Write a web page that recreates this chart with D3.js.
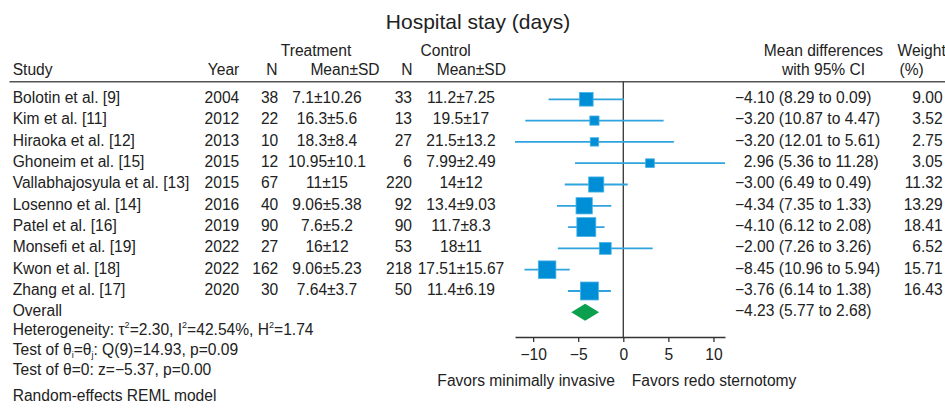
<!DOCTYPE html>
<html>
<head>
<meta charset="utf-8">
<script src="https://cdn.jsdelivr.net/npm/d3@7"></script>
<style>
  body { margin: 0; background: #fff; }
  svg text { font-family: "Liberation Sans", Arial, sans-serif; fill: #222; }
</style>
</head>
<body>
<div id="chart"></div>
<script>
// study data
const studies = ['Bolotin et al. [9]', 'Kim et al. [11]', 'Hiraoka et al. [12]', 'Ghoneim et al. [15]',
  'Vallabhajosyula et al. [13]', 'Losenno et al. [14]', 'Patel et al. [16]', 'Monsefi et al. [19]',
  'Kwon et al. [18]', 'Zhang et al. [17]'];
const years = [2004, 2012, 2013, 2015, 2015, 2016, 2019, 2022, 2022, 2020];
const treatN = [38, 22, 10, 12, 67, 40, 90, 27, 162, 30];
const treatMean = [7.1, 16.3, 18.3, 10.95, 11, 9.06, 7.6, 16, 9.06, 7.64];
const treatSd = [10.26, 5.6, 8.4, 10.1, 15, 5.38, 5.2, 12, 5.23, 3.7];
const ctrlN = [33, 13, 27, 6, 220, 92, 90, 53, 218, 50];
const ctrlMean = [11.2, 19.5, 21.5, 7.99, 14, 13.4, 11.7, 18, 17.51, 11.4];
const ctrlSd = [7.25, 17, 13.2, 2.49, 12, 9.03, 8.3, 11, 15.67, 6.19];
const md = [-4.10, -3.20, -3.20, 2.96, -3.00, -4.34, -4.10, -2.00, -8.45, -3.76];
const lo = [-8.29, -10.87, -12.01, -5.36, -6.49, -7.35, -6.12, -7.26, -10.96, -6.14];
const hi = [0.09, 4.47, 5.61, 11.28, 0.49, -1.33, -2.08, 3.26, -5.94, -1.38];
const weights = [9.00, 3.52, 2.75, 3.05, 11.32, 13.29, 18.41, 6.52, 15.71, 16.43];

// overall estimate
const overall = { md: -4.23, lo: -5.77, hi: -2.68 };
const xTicks = [-10, -5, 0, 5, 10];

const width = 945, height = 416;
const svg = d3.select('#chart').append('svg')
  .attr('width', width).attr('height', height);

const fs = 15.6;
const x = d3.scaleLinear().domain([d3.min(lo), d3.max(hi)]).range([515, 725]);
const y = d3.scaleLinear().domain([0, 10]).range([99.3, 312.3]);
const f2 = d3.format('.2f');

// title
svg.append('text').attr('x', 478).attr('y', 28.5).attr('text-anchor', 'middle')
  .style('font-size', '21px').text('Hospital stay (days)');

// header
const header = [
  ['Treatment', 316, 56, 'middle'], ['Control', 445.7, 56, 'middle'],
  ['Mean differences', 823.5, 56, 'middle'], ['Weight', 897.5, 56, 'start'],
  ['Study', 12.7, 75, 'start'], ['Year', 239.3, 75, 'end'], ['N', 277.5, 75, 'end'],
  ['Mean±SD', 345, 75, 'middle'], ['N', 412.5, 75, 'end'], ['Mean±SD', 471.3, 75, 'middle'],
  ['with 95% CI', 823.5, 75, 'middle'], ['(%)', 899.5, 75, 'start']
];
svg.selectAll('.hdr').data(header).enter().append('text')
  .attr('class', 'hdr')
  .attr('x', d => d[1]).attr('y', d => d[2])
  .attr('text-anchor', d => d[3])
  .style('font-size', fs + 'px')
  .text(d => d[0]);

svg.append('line').attr('x1', 9.5).attr('x2', width).attr('y1', 81.7).attr('y2', 81.7)
  .attr('stroke', '#555').attr('stroke-width', 1.6);

// zero line
svg.append('line').attr('x1', x(0)).attr('x2', x(0)).attr('y1', 81.7).attr('y2', 337)
  .attr('stroke', '#333').attr('stroke-width', 1.3);

// table columns
const idx = d3.range(studies.length);
const cols = [
  [i => studies[i], 12.7, 'start'],
  [i => years[i], 239.3, 'end'],
  [i => treatN[i], 278.3, 'end'],
  [i => treatMean[i] + '±' + treatSd[i], 327, 'middle'],
  [i => ctrlN[i], 412, 'end'],
  [i => ctrlMean[i] + '±' + ctrlSd[i], 461, 'middle'],
  [i => (md[i] < 0 ? '' : '\u2007') + f2(md[i]) + ' (' + f2(Math.abs(lo[i])) + ' to ' + f2(Math.abs(hi[i])) + ')', 735, 'start'],
  [i => f2(weights[i]), 942.7, 'end']
];
cols.forEach(c => {
  svg.append('g').selectAll('text').data(idx).enter().append('text')
    .attr('x', c[1]).attr('y', i => y(i) + 3.8)
    .attr('text-anchor', c[2])
    .style('font-size', fs + 'px')
    .text(c[0]);
});

// CI lines and markers
svg.append('g').selectAll('line').data(idx).enter().append('line')
  .attr('x1', i => x(lo[i])).attr('x2', i => x(hi[i]))
  .attr('y1', i => y(i)).attr('y2', i => y(i))
  .attr('stroke', '#2ea3de').attr('stroke-width', 1.8);

const side = i => Math.sqrt(18.4 * weights[i] + 20);
svg.append('g').selectAll('rect').data(idx).enter().append('rect')
  .attr('x', i => x(md[i]) - side(i) / 2)
  .attr('y', i => y(i) - side(i) / 2)
  .attr('width', side).attr('height', side)
  .attr('fill', '#008fd6')
  .attr('stroke', '#49b1e6').attr('stroke-width', 0.8);

// overall row
const yo = y(10);
svg.append('text').attr('x', 12.7).attr('y', yo + 3.8).style('font-size', fs + 'px').text('Overall');
svg.append('text').attr('x', 735).attr('y', yo + 3.8).style('font-size', fs + 'px')
  .text(f2(overall.md) + ' (' + f2(Math.abs(overall.lo)) + ' to ' + f2(Math.abs(overall.hi)) + ')');
svg.append('path')
  .attr('d', `M${x(overall.lo)},${yo} L${x(overall.md)},${yo - 8.5} L${x(overall.hi)},${yo} L${x(overall.md)},${yo + 8.5} Z`)
  .attr('fill', '#0aa04d');

// axis
const axisY = 337;
const ax = svg.append('g').attr('transform', `translate(0,${axisY})`)
  .call(d3.axisBottom(x).tickValues(xTicks).tickSize(5).tickSizeOuter(0).tickPadding(7));
ax.select('.domain').attr('stroke', '#333').attr('stroke-width', 1.3);
ax.selectAll('.tick line').attr('stroke', '#333').attr('stroke-width', 1.3);
ax.selectAll('.tick text').style('font-size', fs + 'px').style('font-family', '"Liberation Sans", Arial, sans-serif').attr('fill', '#222');

svg.append('text').attr('x', 615).attr('y', 386).attr('text-anchor', 'end')
  .style('font-size', fs + 'px').text('Favors minimally invasive');
svg.append('text').attr('x', 631.7).attr('y', 386)
  .style('font-size', fs + 'px').text('Favors redo sternotomy');

// footer statistics
const sup = (t, s) => { t.append('tspan').attr('dy', -6).style('font-size', '9px').text(s); };
const het = svg.append('text').attr('x', 12.7).attr('y', 335).style('font-size', fs + 'px');
het.append('tspan').text('Heterogeneity: τ');
het.append('tspan').attr('dy', -7).style('font-size', '9px').text('2');
het.append('tspan').attr('dy', 7).text('=2.30, I');
het.append('tspan').attr('dy', -7).style('font-size', '9px').text('2');
het.append('tspan').attr('dy', 7).text('=42.54%, H');
het.append('tspan').attr('dy', -7).style('font-size', '9px').text('2');
het.append('tspan').attr('dy', 7).text('=1.74');

const q = svg.append('text').attr('x', 12.7).attr('y', 355).style('font-size', fs + 'px');
q.append('tspan').text('Test of θ');
q.append('tspan').attr('dy', 3).style('font-size', '9px').text('i');
q.append('tspan').attr('dy', -3).text('=θ');
q.append('tspan').attr('dy', 3).style('font-size', '9px').text('j');
q.append('tspan').attr('dy', -3).text(': Q(9)=14.93, p=0.09');

svg.append('text').attr('x', 12.7).attr('y', 375).style('font-size', fs + 'px')
  .text('Test of θ=0: z=\u22125.37, p=0.00');
svg.append('text').attr('x', 12.7).attr('y', 400.7).style('font-size', fs + 'px')
  .text('Random-effects REML model');
</script>
</body>
</html>
